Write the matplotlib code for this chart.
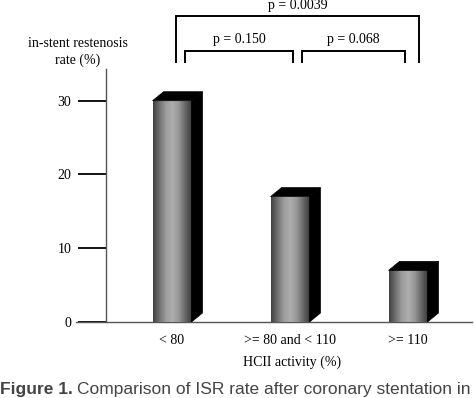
import numpy as np
import matplotlib
matplotlib.use("Agg")
import matplotlib.pyplot as plt
from matplotlib.patches import Polygon
from matplotlib.colors import LinearSegmentedColormap

categories = ["< 80", ">= 80 and < 110", ">= 110"]
rates = [30, 17, 7]
yticks = [0, 10, 20, 30]
pvals = ["p = 0.0039", "p = 0.150", "p = 0.068"]

W, H = 474, 398
fig = plt.figure(figsize=(W / 100, H / 100), dpi=100)
serif = "Liberation Serif"
fs = 10

# axes spans pixels x 76..472, y 69..322
ax = fig.add_axes([76 / W, 1 - 322 / H, 396 / W, (322 - 69) / H])
x = np.arange(len(categories))
bw = 0.33
dx, dy = 0.093, 1.22

cmap = LinearSegmentedColormap.from_list(
    "cyl", ["#404040", "#707070", "#9c9c9c", "#aeaeae", "#969696", "#666666", "#3a3a3a"])
grad = np.linspace(0, 1, 256).reshape(1, -1)

bars = ax.bar(x, rates, width=bw, color="#888888", edgecolor="none", zorder=2)
for b, xi, h in zip(bars, x, rates):
    im = ax.imshow(grad, extent=[xi - bw / 2, xi + bw / 2, 0, h], aspect="auto",
                   cmap=cmap, zorder=3, interpolation="bilinear")
    im.set_clip_path(b)
    side = Polygon([(xi + bw / 2, 0), (xi + bw / 2 + dx, dy), (xi + bw / 2 + dx, h + dy),
                    (xi + bw / 2, h)], closed=True, facecolor="black", edgecolor="black",
                   lw=0.5, zorder=4, clip_on=False)
    top = Polygon([(xi - bw / 2, h), (xi - bw / 2 + dx, h + dy), (xi + bw / 2 + dx, h + dy),
                   (xi + bw / 2, h)], closed=True, facecolor="black", edgecolor="black",
                  lw=0.5, zorder=4, clip_on=False)
    ax.add_patch(side)
    ax.add_patch(top)

ax.set_xlim(-0.814, 2.542)
ax.set_ylim(0, 34.3)

for s in ["top", "right"]:
    ax.spines[s].set_visible(False)
ax.spines["left"].set_position(("axes", 30 / 396))
ax.spines["left"].set_color("#555555")
ax.spines["bottom"].set_color("#555555")
ax.spines["left"].set_linewidth(1.0)
ax.spines["bottom"].set_linewidth(1.0)

ax.set_yticks(yticks)
ax.set_yticklabels([str(v) for v in yticks], fontfamily=serif, fontsize=fs)
ax.tick_params(axis="y", length=20, width=1.3, color="black", pad=5)
ax.set_xticks(x)
ax.set_xticklabels(categories, fontfamily=serif, fontsize=fs)
ax.tick_params(axis="x", length=0, pad=9)

# significance brackets
def bracket(x0, x1, ytop, ybot, label, ytext):
    ax.plot([x0, x0, x1, x1], [ybot, ytop, ytop, ybot], color="black", lw=1.4,
            clip_on=False, solid_joinstyle="miter")
    ax.text((x0 + x1) / 2, ytext, label, ha="center", va="bottom",
            fontfamily=serif, fontsize=fs, clip_on=False)

bracket(x[0] + 0.034, x[2] + 0.093, 41.5, 35.3, pvals[0], 42.0)
bracket(x[0] + 0.11, x[1] + 0.025, 36.8, 35.2, pvals[1], 37.4)
bracket(x[1] + 0.10, x[2] - 0.025, 36.8, 35.2, pvals[2], 37.4)

fig.text(78 / W, 1 - 52 / H, "in-stent restenosis\nrate (%)", ha="center", va="center",
         fontfamily=serif, fontsize=fs, linespacing=1.4)
fig.text(292 / W, 1 - 362 / H, "HCII activity (%)", ha="center", va="center",
         fontfamily=serif, fontsize=fs)

fig.text(0.0, 1 - 382 / H, "Figure 1.", ha="left", va="top", fontfamily="Liberation Sans",
         fontsize=12.5, fontweight="bold", color="#444444")
fig.text(77 / W, 1 - 382 / H, "Comparison of ISR rate after coronary stentation in",
         ha="left", va="top", fontfamily="Liberation Sans", fontsize=12.5, color="#444444")

fig.savefig("out.png", dpi=100)
